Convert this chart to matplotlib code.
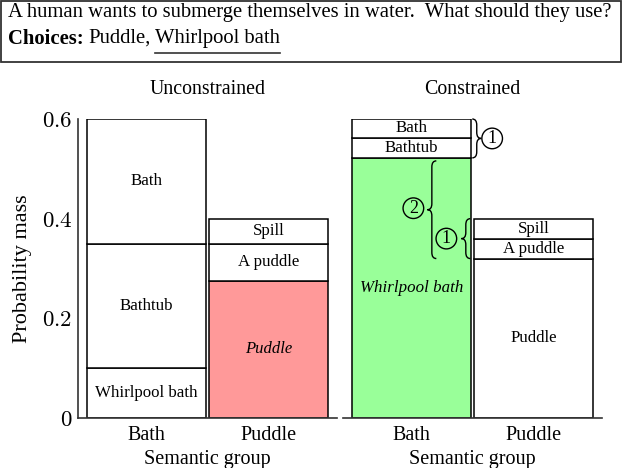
import matplotlib
matplotlib.use("Agg")
import matplotlib.pyplot as plt
from matplotlib.patches import Rectangle, PathPatch
from matplotlib.path import Path
import numpy as np

plt.rcParams['font.family'] = ['Liberation Serif', 'DejaVu Serif']
plt.rcParams['mathtext.fontset'] = 'cm'

# ---------------- data ----------------
groups = ["Bath", "Puddle"]
yticks = [0, 0.2, 0.4, 0.6]
ytick_labels = ["$0$", "$0.2$", "$0.4$", "$0.6$"]

# Unconstrained (segments from bottom to top)
uncon_bath_labels = ["Whirlpool bath", "Bathtub", "Bath"]
uncon_bath_values = [0.10, 0.25, 0.25]
uncon_puddle_labels = ["Puddle", "A puddle", "Spill"]
uncon_puddle_values = [0.275, 0.075, 0.05]

# Constrained
con_bath_labels = ["Whirlpool bath", "Bathtub", "Bath"]
con_bath_values = [0.522, 0.040, 0.038]
con_puddle_labels = ["Puddle", "A puddle", "Spill"]
con_puddle_values = [0.320, 0.040, 0.040]

PINK = "#FF9999"
GREEN = "#99FF99"

W, H = 622, 468
fig = plt.figure(figsize=(W / 100, H / 100), dpi=100)


def px(x, y):
    return x / W, 1 - y / H


def stack(ax, xpos, labels, values, colors, sizes, styles):
    bottom = 0.0
    for lab, v, c, s, st in zip(labels, values, colors, sizes, styles):
        ax.bar(xpos, v, bottom=bottom, width=0.975, color=c,
               edgecolor="black", linewidth=1.1, zorder=2)
        ax.text(xpos, bottom + v / 2, lab, ha="center", va="center",
                fontsize=s, style=st, zorder=3)
        bottom += v


def setup(ax, title, left_spine):
    ax.set_xlim(-0.56, 1.56)
    ax.set_ylim(0, 0.6)
    ax.set_xticks([0, 1])
    ax.set_xticklabels(groups, fontsize=14.5)
    ax.tick_params(axis="both", length=0)
    ax.tick_params(axis="x", pad=5.5)
    for s in ["top", "right"]:
        ax.spines[s].set_visible(False)
    ax.spines["bottom"].set_linewidth(1.2)
    ax.spines["bottom"].set_color("#333333")
    if left_spine:
        ax.spines["left"].set_linewidth(1.2)
        ax.spines["left"].set_color("#333333")
        ax.set_yticks(yticks)
        ax.set_yticklabels(ytick_labels, fontsize=16.5)
        ax.tick_params(axis="y", pad=4)
    else:
        ax.spines["left"].set_visible(False)
        ax.set_yticks([])
    ax.set_xlabel("Semantic group", fontsize=14.5, labelpad=4)
    ax.text(0.5, 1 + 29.5 / 299, title, transform=ax.transAxes,
            ha="center", va="center", fontsize=14.3)


ax1 = fig.add_axes([78 / W, 1 - 418 / H, 259 / W, 299 / H])
ax2 = fig.add_axes([343 / W, 1 - 418 / H, 259 / W, 299 / H])

setup(ax1, "Unconstrained", True)
setup(ax2, "Constrained", False)
ax1.set_ylabel("Probability mass", fontsize=16)
ax1.yaxis.set_label_coords(-0.178, 0.5)

stack(ax1, 0, uncon_bath_labels, uncon_bath_values,
      ["white", "white", "white"], [12.2, 12.2, 12.2], ["normal"] * 3)
stack(ax1, 1, uncon_puddle_labels, uncon_puddle_values,
      [PINK, "white", "white"], [12, 12.2, 12.2], ["italic", "normal", "normal"])
stack(ax2, 0, con_bath_labels, con_bath_values,
      [GREEN, "white", "white"], [12.2, 12.2, 12.2], ["italic", "normal", "normal"])
stack(ax2, 1, con_puddle_labels, con_puddle_values,
      ["white", "white", "white"], [12.2, 12.2, 12.2], ["normal", "normal", "normal"])


def brace(ax, x0, y0, y1, w, r, **kw):
    """Vertical curly brace with ends at x0, tip at x0+w."""
    xm = x0 + w / 2
    ym = (y0 + y1) / 2
    verts = [(x0, y1), (xm, y1), (xm, y1 - r), (xm, ym + r),
             (xm, ym), (x0 + w, ym), (xm, ym), (xm, ym - r),
             (xm, y0 + r), (xm, y0), (x0, y0)]
    codes = [Path.MOVETO, Path.CURVE3, Path.CURVE3, Path.LINETO,
             Path.CURVE3, Path.CURVE3, Path.CURVE3, Path.CURVE3,
             Path.LINETO, Path.CURVE3, Path.CURVE3]
    ax.add_patch(PathPatch(Path(verts, codes), fill=False, lw=1.0,
                           edgecolor="black", clip_on=False, zorder=4, **kw))


def circled(ax, x, y, s):
    ax.text(x, y, s, ha="center", va="center", fontsize=13, zorder=5,
            bbox=dict(boxstyle="circle,pad=0.1", facecolor="none",
                      edgecolor="black", linewidth=1.0), clip_on=False)


bath_top = sum(con_bath_values)
whirl_top = con_bath_values[0]
pud_group_top = sum(con_puddle_values)
pud_top = con_puddle_values[0]
dx = 1 / 122.5  # one pixel in x data units
dy = 1 / 498.0  # one pixel in y data units

# top brace: Bath + Bathtub (tip to the right)
brace(ax2, 0.498, whirl_top, bath_top, 9 * dx, 6 * dy)
circled(ax2, 0.661, (whirl_top + bath_top) / 2, "1")
# brace 2: whirlpool top down to puddle top (tip to the left)
brace(ax2, 0.204, pud_top, whirl_top - 3 * dy, -9 * dx, 6 * dy)
circled(ax2, 0.016, (pud_top + whirl_top) / 2, "2")
# brace 1 lower: puddle group top down to puddle top (tip to the left)
brace(ax2, 0.482, pud_top, pud_group_top, -9 * dx, 6 * dy)
circled(ax2, 0.286, (pud_top + pud_group_top) / 2, "1")

# ---------------- header box ----------------
fig.patches.append(Rectangle(px(0.8, 62), 620 / W, 61 / H, transform=fig.transFigure,
                             fill=False, edgecolor="#333333", linewidth=1.3))
fig.text(*px(8, 13), "A human wants to submerge themselves in water.  What should they use?",
         ha="left", va="center", fontsize=14.9)
t1 = fig.text(*px(8, 38.5), "Choices:", ha="left", va="center", fontsize=14.9,
              fontweight="bold")
fig.canvas.draw()
r = fig.canvas.get_renderer()
e1 = t1.get_window_extent(r)
t2 = fig.text(e1.x1 / W + 5 / W, px(0, 38.5)[1], "Puddle,", ha="left", va="center",
              fontsize=14.9)
e2 = t2.get_window_extent(r)
t3 = fig.text(e2.x1 / W + 4 / W, px(0, 38.5)[1], "Whirlpool bath", ha="left",
              va="center", fontsize=14.9)
e3 = t3.get_window_extent(r)
fig.add_artist(plt.Line2D([e3.x0 / W, e3.x1 / W], [px(0, 52.5)[1]] * 2,
                          transform=fig.transFigure, color="#333333", lw=1.2))

fig.savefig("out.png", dpi=100)
